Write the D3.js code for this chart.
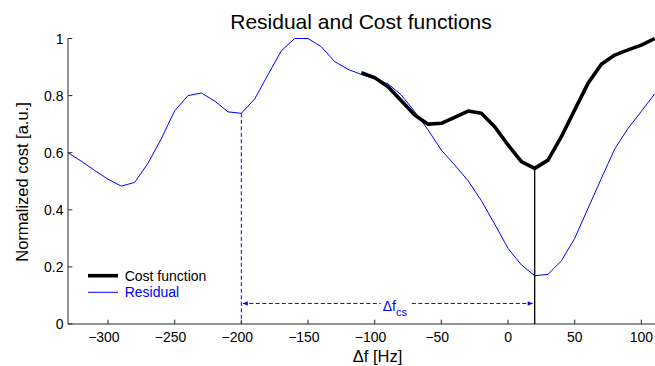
<!DOCTYPE html>
<html>
<head>
<meta charset="utf-8">
<script src="https://cdn.jsdelivr.net/npm/d3@7"></script>
<style>
  body { margin: 0; background: #fff; }
  svg { display: block; }
  text { font-family: "Liberation Sans", Arial, Helvetica, sans-serif; }
</style>
</head>
<body>
<svg id="chart" width="655" height="366"></svg>
<script>
// ---- data ----
const residualFreq = [-330,-320,-310,-300,-290,-280,-270,-260,-250,-240,-230,-220,-210,-200,-190,-180,-170,-160,-150,-140,-130,-120,-110,-100,-90,-80,-70,-60,-50,-40,-30,-20,-10,0,10,20,30,40,50,60,70,80,90,100,110];
const residualValues = [0.600,0.570,0.538,0.507,0.483,0.496,0.563,0.649,0.747,0.800,0.809,0.781,0.743,0.738,0.788,0.873,0.957,1.000,1.000,0.971,0.919,0.892,0.874,0.858,0.841,0.802,0.744,0.680,0.609,0.557,0.502,0.432,0.350,0.265,0.207,0.169,0.174,0.221,0.300,0.405,0.510,0.613,0.685,0.745,0.806];
const costFreq = [-110,-100,-90,-80,-70,-60,-50,-40,-30,-20,-10,0,10,20,30,40,50,60,70,80,90,100,110];
const costValues = [0.880,0.863,0.831,0.782,0.732,0.700,0.703,0.724,0.746,0.738,0.691,0.627,0.569,0.545,0.574,0.656,0.750,0.843,0.910,0.942,0.960,0.977,1.000];
const xTicks = [-300,-250,-200,-150,-100,-50,0,50,100];
const yTicks = [0,0.2,0.4,0.6,0.8,1];
const yTickLabels = ["0","0.2","0.4","0.6","0.8","1"];
const markerFreqStart = -200;   // residual-based estimate
const markerFreqEnd = 20;       // cost minimum
const arrowLevel = 0.072;
const titleText = "Residual and Cost functions";
const xLabelText = "\u0394f [Hz]";
const yLabelText = "Normalized cost [a.u.]";
const legendLabels = ["Cost function", "Residual"];

// ---- layout ----
const svg = d3.select("#chart");
const x = d3.scaleLinear().domain([-330, 110]).range([68, 654.7]);
const y = d3.scaleLinear().domain([0, 1]).range([324, 38.5]);
const blue = "#0000ff";
const axisColor = "#262626";

const residual = residualFreq.map((f, i) => [f, residualValues[i]]);
const cost = costFreq.map((f, i) => [f, costValues[i]]);
const line = d3.line().x(d => x(d[0])).y(d => y(d[1]));

const defs = svg.append("defs");
defs.append("clipPath").attr("id", "plotclip")
  .append("rect").attr("x", 68).attr("y", 30).attr("width", 587).attr("height", 300);
defs.append("marker").attr("id", "arrowH").attr("viewBox", "0 0 10 10")
  .attr("refX", 10).attr("refY", 5).attr("markerWidth", 6).attr("markerHeight", 5)
  .attr("markerUnits", "userSpaceOnUse").attr("orient", "auto-start-reverse")
  .append("path").attr("d", "M0,0.5 L10,5 L0,9.5 Z").attr("fill", blue);

// residual line
svg.append("path").datum(residual)
  .attr("d", line).attr("fill", "none").attr("stroke", blue).attr("stroke-width", 1)
  .attr("clip-path", "url(#plotclip)");

// dashed vertical at residual estimate
const resAtStart = residualValues[residualFreq.indexOf(markerFreqStart)];
svg.append("line")
  .attr("x1", x(markerFreqStart)).attr("x2", x(markerFreqStart))
  .attr("y1", y(resAtStart)).attr("y2", y(0))
  .attr("stroke", blue).attr("stroke-width", 1).attr("stroke-dasharray", "4,2.5");

// cost line
svg.append("path").datum(cost)
  .attr("d", line).attr("fill", "none").attr("stroke", "#000").attr("stroke-width", 3.6)
  .attr("stroke-linejoin", "round").attr("clip-path", "url(#plotclip)");

// solid vertical at cost minimum
const costAtEnd = costValues[costFreq.indexOf(markerFreqEnd)];
svg.append("line")
  .attr("x1", x(markerFreqEnd)).attr("x2", x(markerFreqEnd))
  .attr("y1", y(costAtEnd)).attr("y2", y(0))
  .attr("stroke", "#000").attr("stroke-width", 1.3);

// double arrow
svg.append("line")
  .attr("x1", x(markerFreqStart) + 1.5).attr("x2", x(markerFreqEnd) - 2)
  .attr("y1", y(arrowLevel)).attr("y2", y(arrowLevel))
  .attr("stroke", blue).attr("stroke-width", 1).attr("stroke-dasharray", "4,2.5")
  .attr("marker-start", "url(#arrowH)").attr("marker-end", "url(#arrowH)");

// label delta f_cs with white background
const lab = svg.append("g");
const bg = lab.append("rect").attr("fill", "#fff");
const lt = lab.append("text").attr("x", 382.7).attr("y", y(arrowLevel) + 8)
  .attr("fill", blue).attr("font-size", 14);
lt.append("tspan").text("\u0394f");
lt.append("tspan").attr("dy", 4.5).attr("font-size", 11).text("cs");
const bb = lt.node().getBBox();
bg.attr("x", bb.x - 2).attr("y", y(arrowLevel) - 3).attr("width", bb.width + 4).attr("height", 6);

// axes lines
svg.append("line").attr("x1", 68).attr("x2", 68).attr("y1", y(1)).attr("y2", y(0))
  .attr("stroke", axisColor).attr("stroke-width", 1);
svg.append("line").attr("x1", 68).attr("x2", 655).attr("y1", y(0)).attr("y2", y(0))
  .attr("stroke", axisColor).attr("stroke-width", 1);

// y ticks
const yt = svg.append("g");
yTicks.forEach((t, i) => {
  yt.append("line").attr("x1", 68).attr("x2", 72.3).attr("y1", y(t)).attr("y2", y(t))
    .attr("stroke", axisColor).attr("stroke-width", 1);
  yt.append("text").attr("x", 63.5).attr("y", y(t) + 5).attr("text-anchor", "end")
    .attr("font-size", 14).attr("fill", "#000").text(yTickLabels[i]);
});

// x ticks
const xt = svg.append("g");
xTicks.forEach(t => {
  xt.append("line").attr("x1", x(t)).attr("x2", x(t)).attr("y1", y(0)).attr("y2", y(0) - 4.3)
    .attr("stroke", axisColor).attr("stroke-width", 1);
  const label = t < 0 ? "\u2212" + Math.abs(t) : String(t);
  xt.append("text").attr("x", x(t) - (t < 0 ? 4.1 : 0)).attr("y", 341.5)
    .attr("text-anchor", "middle").attr("font-size", 14).attr("fill", "#000").text(label);
});

// title and labels
svg.append("text").attr("x", 361).attr("y", 29.3).attr("text-anchor", "middle")
  .attr("font-size", 21).attr("fill", "#000").text(titleText);
svg.append("text").attr("x", 377.5).attr("y", 361.5).attr("text-anchor", "middle")
  .attr("font-size", 16.5).attr("fill", "#000").text(xLabelText);
svg.append("text").attr("transform", "translate(28,182) rotate(-90)").attr("text-anchor", "middle")
  .attr("font-size", 16.5).attr("fill", "#000").text(yLabelText);

// legend
const lg = svg.append("g");
lg.append("line").attr("x1", 88).attr("x2", 118).attr("y1", 275.7).attr("y2", 275.7)
  .attr("stroke", "#000").attr("stroke-width", 3.6);
lg.append("text").attr("x", 124.7).attr("y", 280.7).attr("font-size", 14).attr("fill", "#000").text(legendLabels[0]);
lg.append("line").attr("x1", 88).attr("x2", 118).attr("y1", 292.3).attr("y2", 292.3)
  .attr("stroke", blue).attr("stroke-width", 1);
lg.append("text").attr("x", 124.7).attr("y", 297.3).attr("font-size", 14).attr("fill", blue).text(legendLabels[1]);
</script>
</body>
</html>
